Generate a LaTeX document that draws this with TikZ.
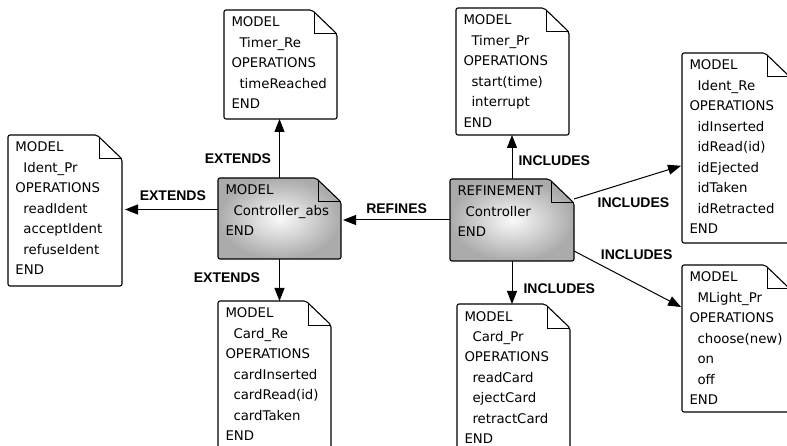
\documentclass[tikz,border=0pt]{standalone}
\usepackage{fontspec}
\setmainfont{DejaVu Sans}
\newfontfamily\labelfont{Liberation Sans}
\usetikzlibrary{arrows.meta,backgrounds,positioning}

% text of one model sheet: width, height, lines
\newcommand\sheet[3]{\begin{minipage}[t][#2][t]{#1}\fontsize{13.3}{20.45}\selectfont\leftskip=7pt\rule{0pt}{16.5pt}#3\end{minipage}}
\newcommand\op[1]{\hspace*{8pt}#1}
% outline with the folded corner
\newcommand\fold[2][]{%
\draw[sheetline,#1](#2.north west)--([xshift=-25pt]#2.north east)--([yshift=-24pt]#2.north east)--(#2.south east)--(#2.south west)--cycle;
\draw[line width=1pt]([shift={(-23pt,-3pt)}]#2.north east)|-([yshift=-24pt]#2.north east);
}
\tikzset{
sheetbox/.style={inner sep=0pt, anchor=north west},
sheetline/.style={line width=1.1pt, rounded corners=2pt},
shaded/.style={inner color=black!2, outer color=black!33},
lbl/.style={font=\labelfont\bfseries\fontsize{14}{16}\selectfont, inner sep=2pt}
}

\begin{document}
\begin{tikzpicture}[>={Triangle[length=13pt,width=10pt]}, x=1pt, y=-1pt, line width=1pt]
\useasboundingbox (0,0) rectangle (787,446);
\node[sheetbox](timre) at (224,10) {\sheet{112pt}{108pt}{MODEL\\\op{Timer\_Re}\\OPERATIONS\\\op{timeReached}\\END}};
\node[sheetbox](abs) at (218,178) {\sheet{122pt}{80pt}{MODEL\\\op{Controller\_abs}\\END}};
\node[sheetbox](ctrl) at (450,179) {\sheet{123pt}{81pt}{REFINEMENT\\\op{Controller}\\END}};
\node[sheetbox](timpr) at (456,8) {\sheet{112pt}{126pt}{MODEL\\\op{Timer\_Pr}\\OPERATIONS\\\op{start(time)}\\\op{interrupt}\\END}};
\node[sheetbox](idpr) at (8,135) {\sheet{113pt}{150pt}{MODEL\\\op{Ident\_Pr}\\OPERATIONS\\\op{readIdent}\\\op{acceptIdent}\\\op{refuseIdent}\\END}};
\node[sheetbox](idre) at (682,53) {\sheet{107pt}{189pt}{MODEL\\\op{Ident\_Re}\\OPERATIONS\\\op{idInserted}\\\op{idRead(id)}\\\op{idEjected}\\\op{idTaken}\\\op{idRetracted}\\END}};
\node[sheetbox](mlight) at (682,265) {\sheet{107pt}{146pt}{MODEL\\\op{MLight\_Pr}\\OPERATIONS\\\op{choose(new)}\\\op{on}\\\op{off}\\END}};
\node[sheetbox](cardre) at (218,301) {\sheet{112pt}{152pt}{MODEL\\\op{Card\_Re}\\OPERATIONS\\\op{cardInserted}\\\op{cardRead(id)}\\\op{cardTaken}\\END}};
\node[sheetbox](cardpr) at (457,304) {\sheet{112pt}{148pt}{MODEL\\\op{Card\_Pr}\\OPERATIONS\\\op{readCard}\\\op{ejectCard}\\\op{retractCard}\\END}};

\begin{scope}[on background layer]
\foreach \n in {timre,timpr,idpr,idre,mlight,cardre,cardpr}
    \fold{\n};
\fold[shaded]{abs}
\fold[shaded]{ctrl}
\end{scope}

\coordinate (a1) at ([yshift=9pt]abs.west);
\draw[->](abs.north)--(abs.north |- timre.south)node[lbl, pos=.33, left=6pt]{EXTENDS};
\draw[->, shorten >=3pt](a1)--(a1 -| idpr.east)node[lbl, pos=.47, above=6pt]{EXTENDS};
\draw[->](abs.south)--(abs.south |- cardre.north)node[lbl, pos=.44, left=17pt]{EXTENDS};
\draw[->, shorten >=2pt](ctrl.west)--(ctrl.west -| abs.east)node[lbl, pos=.49, above=4pt]{REFINES};
\draw[->](ctrl.north)--(ctrl.north |- timpr.south)node[lbl, pos=.42, right=4pt]{INCLUDES};
\draw[->](ctrl.south)--(ctrl.south |- cardpr.north)node[lbl, pos=.64, right=9pt]{INCLUDES};
\draw[->, shorten >=1pt]([yshift=-20pt]ctrl.north east)--([yshift=-17.5pt]idre.west)node[lbl, pos=.55, below=15pt]{INCLUDES};
\draw[->, shorten >=1pt]([yshift=10pt]ctrl.south east)--([yshift=31pt]mlight.west)node[lbl, pos=.58, above=22pt]{INCLUDES};
\end{tikzpicture}
\end{document}
